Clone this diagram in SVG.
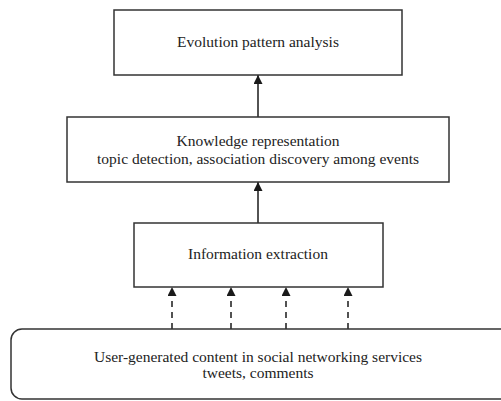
<svg xmlns="http://www.w3.org/2000/svg" width="501" height="401" viewBox="0 0 501 401">
  <defs>
    <marker id="head" viewBox="0 0 10 10" refX="10" refY="5" markerWidth="10" markerHeight="9" markerUnits="userSpaceOnUse" orient="auto">
      <path d="M0,0 L10,5 L0,10 Z" fill="#1a1a1a"/>
    </marker>
    <style>
      .box { fill: #ffffff; stroke: #333333; stroke-width: 1.5; }
      .lbl { font-family: "Liberation Serif", "Times New Roman", serif; font-size: 15.5px; fill: #222222; text-anchor: middle; }
      .link { stroke: #1a1a1a; stroke-width: 1.5; fill: none; marker-end: url(#head); }
      .dash { stroke-dasharray: 6 5; }
    </style>
  </defs>
  <rect width="501" height="401" fill="#ffffff"/>

  <g id="connectors">
    <line class="link" x1="258" y1="117" x2="258" y2="75"/>
    <line class="link" x1="258" y1="223" x2="258" y2="182"/>
    <line class="link dash" x1="172" y1="329" x2="172" y2="287"/>
    <line class="link dash" x1="231" y1="329" x2="231" y2="287"/>
    <line class="link dash" x1="286" y1="329" x2="286" y2="287"/>
    <line class="link dash" x1="348" y1="329" x2="348" y2="287"/>
  </g>

  <g id="evolution">
    <rect class="box" x="114" y="10" width="288" height="65"/>
    <text class="lbl" x="258" y="47">Evolution pattern analysis</text>
  </g>

  <g id="knowledge">
    <rect class="box" x="67" y="117" width="382" height="65"/>
    <text class="lbl" x="258" y="146">Knowledge representation</text>
    <text class="lbl" x="258" y="164">topic detection, association discovery among events</text>
  </g>

  <g id="extraction">
    <rect class="box" x="134" y="223" width="249" height="64"/>
    <text class="lbl" x="258" y="259">Information extraction</text>
  </g>

  <g id="content">
    <rect class="box" x="11" y="329" width="500" height="70" rx="11"/>
    <text class="lbl" x="258" y="362">User-generated content in social networking services</text>
    <text class="lbl" x="258" y="378">tweets, comments</text>
  </g>
</svg>
